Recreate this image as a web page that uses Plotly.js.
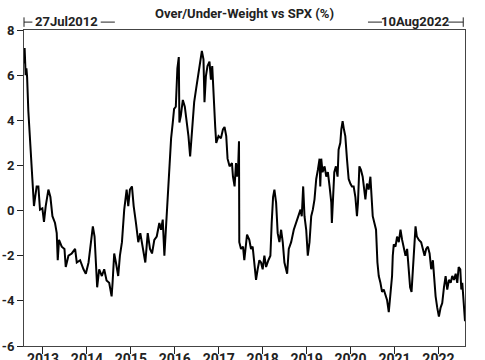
<!DOCTYPE html>
<html>
<head>
<meta charset="utf-8">
<script src="https://cdn.plot.ly/plotly-3.0.1.min.js"></script>
<style>html,body{margin:0;padding:0;background:#fff;}#chart{width:485px;height:360px;}</style>
</head>
<body>
<div id="chart"></div>
<script>
// Decimal years (27 Jul 2012 .. 10 Aug 2022)
const years = [2012.568, 2012.582, 2012.594, 2012.605, 2012.623, 2012.639, 2012.667, 2012.696, 2012.726, 2012.753, 2012.781, 2012.795, 2012.822, 2012.856, 2012.895, 2012.932, 2012.986,
 2013.023, 2013.062, 2013.123, 2013.169, 2013.215, 2013.274, 2013.313, 2013.336, 2013.365, 2013.427, 2013.489, 2013.518, 2013.580, 2013.655, 2013.731, 2013.769, 2013.845, 2013.922, 2013.975, 2014.037, 2014.096, 2014.135, 2014.174, 2014.203, 2014.233,
 2014.279, 2014.340, 2014.393, 2014.447, 2014.507, 2014.562, 2014.584, 2014.621, 2014.660, 2014.712, 2014.751, 2014.797, 2014.849, 2014.904, 2014.941, 2014.979, 2015.025, 2015.064, 2015.116, 2015.169, 2015.215, 2015.269, 2015.329, 2015.384, 2015.436, 2015.482, 2015.534, 2015.589, 2015.648, 2015.687, 2015.726, 2015.763, 2015.801,
 2015.840, 2015.877, 2015.916, 2015.954, 2015.984, 2016.023, 2016.059, 2016.091, 2016.105, 2016.137, 2016.183, 2016.228, 2016.274, 2016.311, 2016.349, 2016.388, 2016.441, 2016.486, 2016.539, 2016.578, 2016.616, 2016.653, 2016.676, 2016.708, 2016.744, 2016.790, 2016.822, 2016.852, 2016.881, 2016.920, 2016.943, 2016.995, 2017.050, 2017.096, 2017.132, 2017.171, 2017.201, 2017.247, 2017.301, 2017.324, 2017.361, 2017.393, 2017.416, 2017.445, 2017.461,
 2017.468, 2017.507, 2017.553, 2017.582, 2017.644, 2017.696, 2017.735, 2017.772, 2017.811, 2017.849, 2017.886, 2017.925, 2017.963, 2018.000, 2018.039, 2018.078, 2018.130, 2018.176, 2018.205, 2018.237, 2018.267, 2018.306, 2018.342, 2018.381, 2018.420, 2018.457, 2018.495, 2018.557, 2018.594, 2018.648, 2018.708, 2018.763, 2018.815, 2018.861, 2018.890, 2018.922, 2018.952, 2018.991, 2019.027, 2019.066, 2019.105, 2019.142, 2019.180, 2019.219, 2019.256, 2019.295,
 2019.311, 2019.333, 2019.363, 2019.409, 2019.447, 2019.484, 2019.523, 2019.562, 2019.575, 2019.598, 2019.630, 2019.667, 2019.705, 2019.728, 2019.767, 2019.790, 2019.820, 2019.849, 2019.881, 2019.918, 2019.957, 2019.995, 2020.032, 2020.071, 2020.110, 2020.146, 2020.169, 2020.201, 2020.237, 2020.276, 2020.315, 2020.338, 2020.374, 2020.413, 2020.452, 2020.475, 2020.505, 2020.543, 2020.580, 2020.612, 2020.642, 2020.680, 2020.717, 2020.756, 2020.795, 2020.831, 2020.870, 2020.909, 2020.945, 2020.961, 2020.984,
 2021.023, 2021.059, 2021.098, 2021.137, 2021.174, 2021.212, 2021.251, 2021.288, 2021.326, 2021.356, 2021.388, 2021.418, 2021.457, 2021.479, 2021.509, 2021.555, 2021.607, 2021.646, 2021.685, 2021.721, 2021.760, 2021.799, 2021.836, 2021.874, 2021.913, 2021.936, 2021.973, 2022.011, 2022.050, 2022.087, 2022.126, 2022.164, 2022.201, 2022.240, 2022.279, 2022.315, 2022.354, 2022.393, 2022.429, 2022.461, 2022.498, 2022.521, 2022.543, 2022.575, 2022.605];

// Over/Under-weight vs SPX (%)
const weight = [6.5, 7.2, 6.6, 6.0, 6.3, 5.9, 4.4, 3.5, 2.4, 1.6, 1.07, 0.2, 0.6, 1.07, 1.07, 0.04, 0.1,
 -0.5, 0.2, 0.93, 0.6, -0.25, -0.55, -1.0, -2.2, -1.3, -1.6, -1.7, -2.5, -2.0, -1.9, -1.7, -2.3, -2.2, -2.6, -2.8, -2.3, -1.15, -0.7, -1.15, -2.3, -3.4,
 -2.6, -2.9, -2.6, -3.1, -3.2, -3.8, -3.2, -1.9, -2.3, -2.9, -2.0, -1.4, 0.04, 0.93, 0.2, 0.93, 1.07, 0.2, -0.55, -1.4, -1.0, -1.7, -2.3, -1.0, -1.7, -1.9, -1.3, -1.15, -0.55, -0.85, -0.4, -2.0, -0.55,
 0.93, 2.1, 3.2, 3.9, 4.5, 4.6, 6.3, 6.8, 3.9, 4.2, 4.9, 4.6, 3.9, 3.3, 2.4, 3.3, 4.8, 5.4, 6.1, 6.7, 7.07, 6.7, 4.8, 5.96, 6.4, 6.6, 5.8, 6.4, 5.07, 3.7, 3.0, 3.3, 3.2, 3.6, 3.7, 3.3, 2.3, 1.96, 2.1, 1.5, 1.07, 2.1, 1.5, 2.1, 3.07,
 -1.4, -1.7, -1.6, -2.2, -1.07, -1.3, -1.7, -1.6, -2.3, -3.07, -2.6, -2.2, -2.3, -2.6, -2.0, -2.5, -2.2, -2.0, -0.55, 0.6, 0.93, 0.35, -1.0, -1.4, -0.85, -1.4, -2.3, -2.8, -1.7, -1.4, -0.85, -0.55, -0.25, 0.04, -0.25, 1.07, -0.25, -0.85, -2.0, -1.4, -0.25, 0.04, 0.5, 1.4, 1.8, 2.3,
 1.07, 2.3, 1.7, 1.96, 1.5, 1.7, 1.07, 0.35, -0.55, 0.6, 1.7, 1.96, 1.5, 2.7, 3.0, 3.6, 3.96, 3.6, 3.3, 2.3, 1.4, 1.2, 1.07, 1.07, 0.6, -0.25, 0.35, 1.96, 1.8, 1.5, 0.93, 0.5, 1.2, 0.93, 1.5, 0.6, -0.25, -0.55, -0.85, -2.3, -2.9, -3.2, -3.6, -3.5, -3.8, -3.96, -4.5, -3.8, -2.9, -2.0, -1.5,
 -1.6, -1.15, -1.4, -0.85, -1.3, -1.7, -2.0, -1.7, -2.6, -3.4, -3.6, -2.6, -1.15, -0.7, -1.15, -1.3, -1.4, -1.7, -2.0, -1.7, -1.6, -1.9, -2.6, -2.2, -3.2, -3.8, -4.3, -4.7, -4.3, -4.1, -3.4, -2.9, -3.5, -3.07, -3.2, -2.9, -3.07, -2.8, -3.2, -2.5, -2.6, -3.5, -3.2, -4.4, -4.9];

const xTickVals = [2013, 2014, 2015, 2016, 2017, 2018, 2019, 2020, 2021, 2022];
const xTickText = ["2013", "2014", "2015", "2016", "2017", "2018", "2019", "2020", "2021", "2022"];
const yTickVals = [-6, -4, -2, 0, 2, 4, 6, 8];
const yTickText = ["-6", "-4", "-2", "0", "2", "4", "6", "8"];
const titleText = "Over/Under-Weight vs SPX (%)";
const startLabel = "27Jul2012";
const endLabel = "10Aug2022";

const FONT = "Roboto, 'Liberation Sans', sans-serif";
const INK = "#222";

const trace = {
  x: years, y: weight, type: "scatter", mode: "lines",
  line: {color: "#000", width: 2}, hoverinfo: "skip"
};

const lineStyle = {color: INK, width: 1};
const shapes = [
  {type: "line", xref: "paper", yref: "paper", x0: 0, x1: 0, y0: 1.010, y1: 1.040, line: lineStyle},
  {type: "line", xref: "paper", yref: "paper", x0: 0, x1: 0.019, y0: 1.025, y1: 1.025, line: lineStyle},
  {type: "line", xref: "paper", yref: "paper", x0: 0.174, x1: 0.206, y0: 1.025, y1: 1.025, line: lineStyle},
  {type: "line", xref: "paper", yref: "paper", x0: 0.780, x1: 0.812, y0: 1.025, y1: 1.025, line: lineStyle},
  {type: "line", xref: "paper", yref: "paper", x0: 0.962, x1: 0.996, y0: 1.025, y1: 1.025, line: lineStyle},
  {type: "line", xref: "paper", yref: "paper", x0: 0.996, x1: 0.996, y0: 1.010, y1: 1.040, line: lineStyle}
];

const labelFont = {family: FONT, size: 13, color: INK, weight: "bold"};
const annotations = [
  {text: startLabel, xref: "paper", yref: "paper", x: 0.0965, y: 1.027, xanchor: "center", yanchor: "middle", showarrow: false, borderpad: 0, font: labelFont},
  {text: endLabel, xref: "paper", yref: "paper", x: 0.887, y: 1.027, xanchor: "center", yanchor: "middle", showarrow: false, borderpad: 0, font: labelFont}
];

const layout = {
  width: 485, height: 360,
  margin: {l: 24, r: 20, t: 30, b: 14, pad: 0},
  paper_bgcolor: "#fff", plot_bgcolor: "#fff",
  showlegend: false,
  title: {text: titleText, x: 0.5, xref: "paper", xanchor: "center", y: 0.964, yref: "container", yanchor: "middle", font: {family: FONT, size: 13, color: INK, weight: "bold"}},
  xaxis: {
    range: [2012.568, 2022.605], tickmode: "array", tickvals: xTickVals, ticktext: xTickText,
    ticks: "outside", ticklen: 7, tickcolor: INK, tickwidth: 1,
    ticklabelstandoff: -7,
    showline: true, mirror: true, linecolor: "#444", linewidth: 1,
    showgrid: false, zeroline: false,
    tickfont: {family: FONT, size: 14, color: INK, weight: "bold"}
  },
  yaxis: {
    range: [-6, 8], tickmode: "array", tickvals: yTickVals, ticktext: yTickText,
    ticks: "outside", ticklen: 6, tickcolor: INK, tickwidth: 1,
    showline: true, mirror: true, linecolor: "#444", linewidth: 1,
    showgrid: false, zeroline: false,
    tickfont: {family: FONT, size: 13, color: INK, weight: "bold"}
  },
  shapes: shapes,
  annotations: annotations
};

Plotly.newPlot("chart", [trace], layout, {staticPlot: true, displayModeBar: false});
</script>
</body>
</html>
